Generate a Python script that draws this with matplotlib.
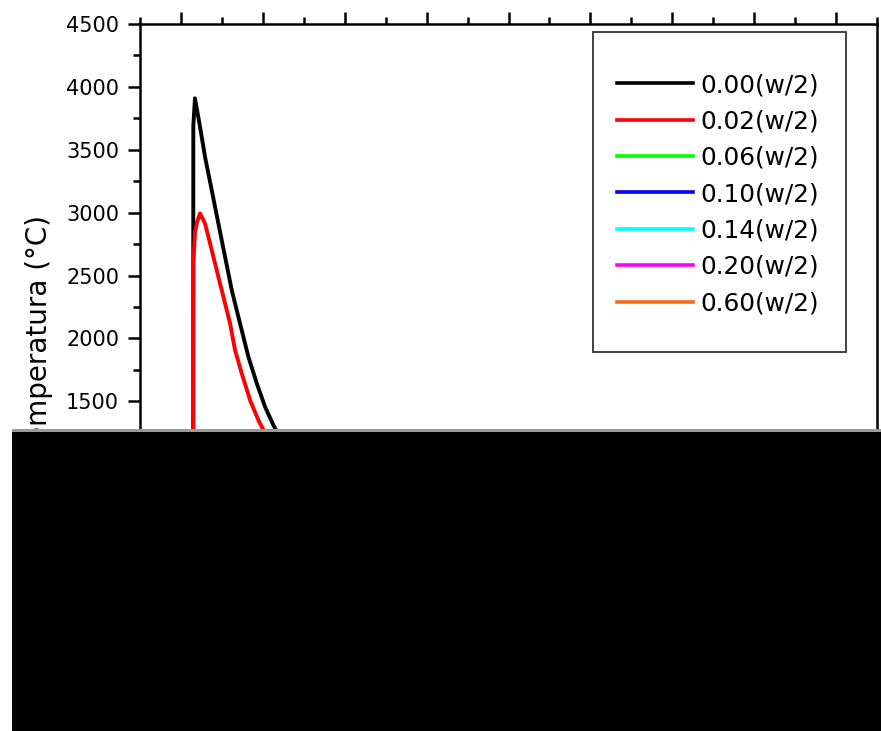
import matplotlib
matplotlib.use("Agg")
import matplotlib.pyplot as plt
from matplotlib.patches import Rectangle
from matplotlib.ticker import MultipleLocator

# series values (x in axis units, temperature in degC)
labels = ['0.00(w/2)', '0.02(w/2)', '0.06(w/2)', '0.10(w/2)',
          '0.14(w/2)', '0.20(w/2)', '0.60(w/2)']
colors = ['#000000', '#ff0000', '#00ff00', '#0000ff',
          '#00ffff', '#ff00ff', '#ff6a1a']

x_000 = [-5, 1.49, 1.51, 1.71, 2.33, 2.94, 3.76, 4.57, 5.39, 6.21, 7.22,
         8.24, 9.27, 10.28, 11.30, 13, 16, 20, 30, 45, 60, 85]
t_000 = [25, 25, 3690, 3909, 3683, 3444, 3179, 2914, 2648, 2383, 2118,
         1853, 1641, 1455, 1309, 1100, 850, 620, 380, 220, 150, 90]

x_002 = [-5, 1.49, 1.51, 1.71, 1.92, 2.33, 2.94, 3.76, 4.57, 5.39, 6.0,
         6.61, 7.43, 8.45, 9.46, 9.88, 12, 15, 20, 30, 45, 60, 85]
t_002 = [25, 25, 2598, 2835, 2914, 2994, 2914, 2702, 2489, 2278, 2118,
         1906, 1721, 1508, 1349, 1296, 1050, 820, 600, 370, 215, 145, 88]

x_006 = [-5, 1.5, 1.6, 2.4, 4, 6, 9, 14, 20, 30, 45, 60, 85]
t_006 = [25, 25, 900, 1150, 1050, 900, 720, 560, 430, 300, 190, 130, 85]

x_010 = [-5, 1.5, 1.7, 2.6, 4, 6, 9, 14, 20, 30, 45, 60, 85]
t_010 = [25, 25, 700, 980, 930, 820, 670, 520, 410, 290, 185, 128, 84]

x_014 = [-5, 1.6, 1.9, 2.9, 4.5, 6.5, 9, 14, 20, 30, 45, 60, 85]
t_014 = [25, 25, 520, 830, 810, 730, 620, 490, 390, 280, 180, 125, 83]

x_020 = [-5, 1.7, 2.2, 3.3, 5, 7, 10, 14, 20, 30, 45, 60, 85]
t_020 = [25, 25, 380, 680, 700, 650, 570, 460, 370, 270, 175, 122, 82]

x_060 = [-5, 3, 5, 8, 11, 15, 20, 30, 45, 60, 85]
t_060 = [25, 25, 120, 230, 280, 290, 270, 220, 160, 115, 80]

xs = [x_000, x_002, x_006, x_010, x_014, x_020, x_060]
ts = [t_000, t_002, t_006, t_010, t_014, t_020, t_060]

W, H = 881, 731
fig = plt.figure(figsize=(W / 100, H / 100), dpi=100)
ax = fig.add_axes([140 / W, 1 - 590 / H, 737 / W, 566 / H])

handles = []
for x, t, c, lab in zip(xs, ts, colors, labels):
    h, = ax.plot(x, t, color=c, lw=2.8, label=lab, solid_joinstyle='round')
    handles.append(h)

ax.set_xlim(-5, 85)
ax.set_ylim(0, 4500)
ax.xaxis.set_major_locator(MultipleLocator(10))
ax.xaxis.set_minor_locator(MultipleLocator(5))
ax.yaxis.set_major_locator(MultipleLocator(500))
ax.yaxis.set_minor_locator(MultipleLocator(250))

for s in ax.spines.values():
    s.set_linewidth(1.8)
ax.tick_params(which='both', direction='out', top=True, bottom=True,
               width=1.8, labelsize=15, pad=6)
ax.tick_params(which='major', length=9)
ax.tick_params(which='minor', length=5.2)

ax.set_ylabel('Temperatura (°C)', fontsize=20)
ax.yaxis.set_label_coords(-0.118, 0.45)

# legend with a separate square frame
leg = ax.legend(handles=handles, loc='upper left', frameon=False,
                bbox_to_anchor=(617 / W, 1 - 73 / H),
                bbox_transform=fig.transFigure,
                fontsize=17.8, borderpad=0, borderaxespad=0,
                handlelength=3.08, handletextpad=0.3, labelspacing=0.5)
for lh in leg.get_lines():
    lh.set_linewidth(2.6)
fig.patches.append(Rectangle((593 / W, 1 - 352 / H), 253 / W, 320 / H,
                             transform=fig.transFigure, fill=False,
                             edgecolor='#333333', lw=1.3, zorder=5))

# lower part of the picture is blacked out
fig.patches.append(Rectangle((12 / W, 1 - 432 / H), 1, 3 / H,
                             transform=fig.transFigure, facecolor='#9a9a9a',
                             edgecolor='none', zorder=10))
fig.patches.append(Rectangle((12 / W, 0), 1, 1 - 432 / H,
                             transform=fig.transFigure, facecolor='black',
                             edgecolor='none', zorder=11))

fig.savefig('out.png', dpi=100)
